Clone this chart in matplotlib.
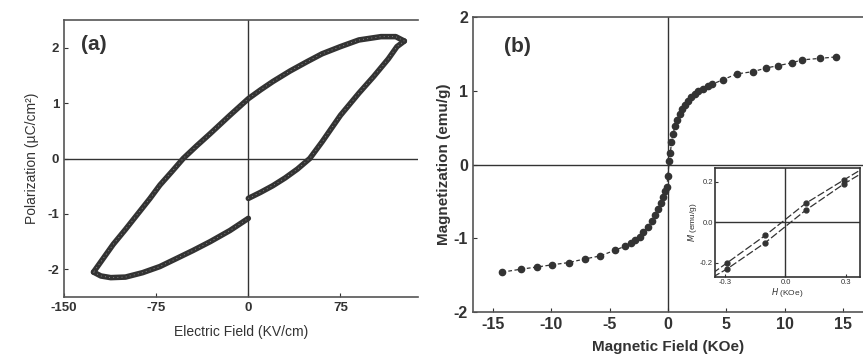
import matplotlib.pyplot as plt

plt.rcParams['font.family'] = ['Liberation Sans', 'DejaVu Sans']
plt.rcParams['axes.unicode_minus'] = False

# (a) P-E hysteresis loop, three traced branches
e_up = [0, 10, 20, 30, 40, 50, 60, 75, 90, 102, 114, 121, 127]
p_up = [-0.72, -0.61, -0.49, -0.35, -0.19, 0.0, 0.30, 0.78, 1.18, 1.48, 1.80, 2.02, 2.12]

e_top = [127, 120, 108, 90, 75, 60, 48, 34, 20, 10, 0, -15, -31, -42, -53, -62, -72,
         -80, -90, -100, -110, -118, -126]
p_top = [2.12, 2.20, 2.20, 2.14, 2.02, 1.89, 1.75, 1.58, 1.39, 1.24, 1.08, 0.78, 0.45,
         0.23, 0.0, -0.23, -0.48, -0.72, -1.00, -1.28, -1.55, -1.80, -2.05]

e_low = [-126, -120, -112, -100, -86, -72, -58, -45, -31, -15, 0]
p_low = [-2.05, -2.12, -2.15, -2.14, -2.06, -1.95, -1.80, -1.66, -1.50, -1.30, -1.08]

# (b) M-H curve
h_field = [-14.2, -12.6, -11.2, -9.9, -8.5, -7.1, -5.8, -4.5, -3.7, -3.2, -2.8, -2.4, -2.1, -1.7,
           -1.4, -1.1, -0.85, -0.6, -0.43, -0.25, -0.1, 0.0, 0.1, 0.2, 0.3, 0.45, 0.6, 0.75, 1.0,
           1.2, 1.45, 1.7, 2.0, 2.3, 2.6, 3.0, 3.4, 3.8, 4.7, 5.9, 7.3, 8.4, 9.4, 10.6, 11.5,
           13.0, 14.4]
mag = [-1.46, -1.42, -1.39, -1.36, -1.33, -1.28, -1.24, -1.16, -1.11, -1.07, -1.03, -0.98, -0.92,
       -0.85, -0.76, -0.68, -0.60, -0.52, -0.44, -0.36, -0.31, -0.15, 0.05, 0.15, 0.30, 0.42,
       0.52, 0.60, 0.68, 0.75, 0.81, 0.86, 0.91, 0.96, 1.00, 1.03, 1.06, 1.09, 1.15, 1.23, 1.26,
       1.31, 1.34, 1.38, 1.42, 1.44, 1.46]

# inset: low-field M-H, two branches
h_in = [-0.36, -0.29, -0.1, 0.1, 0.29, 0.39]
m_in_a = [-0.25, -0.20, -0.064, 0.094, 0.21, 0.27]
m_in_b = [-0.27, -0.23, -0.10, 0.06, 0.19, 0.25]
h_in_pts = [-0.29, -0.1, 0.1, 0.29]
m_in_a_pts = [-0.20, -0.064, 0.094, 0.21]
m_in_b_pts = [-0.23, -0.10, 0.06, 0.19]

ink = '#333333'

fig = plt.figure(figsize=(8.63, 3.64), dpi=100)

ax1 = fig.add_axes([0.0742, 0.184, 0.41, 0.761])
ax1.axhline(0, color=ink, lw=1.0, zorder=1)
ax1.axvline(0, color=ink, lw=1.0, zorder=1)
for xs, ys in [(e_up, p_up), (e_top, p_top), (e_low, p_low)]:
    ax1.plot(xs, ys, color=ink, lw=4.0, solid_capstyle='round', solid_joinstyle='round', zorder=3)
    ax1.plot(xs, ys, color='#9a9a9a', lw=0.6, ls=(0, (1, 4)), zorder=4)
ax1.set_xlim(-150, 138)
ax1.set_ylim(-2.5, 2.5)
ax1.set_xticks([-150, -75, 0, 75])
ax1.set_yticks([-2, -1, 0, 1, 2])
ax1.tick_params(direction='in', length=3, labelsize=9.5, colors=ink)
for lab in ax1.get_xticklabels() + ax1.get_yticklabels():
    lab.set_fontweight('bold')
ax1.spines['right'].set_visible(False)
for s in ['left', 'top', 'bottom']:
    ax1.spines[s].set_color('#555555')
    ax1.spines[s].set_linewidth(1.2)
ax1.set_xlabel('Electric Field (KV/cm)', fontsize=10, color=ink, labelpad=8)
ax1.set_ylabel('Polarization (µC/cm²)', fontsize=10, color=ink, labelpad=6)
ax1.text(-136, 2.05, '(a)', fontsize=15, fontweight='bold', color=ink, va='center')

ax2 = fig.add_axes([0.548, 0.143, 0.452, 0.81])
ax2.axhline(0, color=ink, lw=1.0, zorder=1)
ax2.axvline(0, color=ink, lw=1.0, zorder=1)
ax2.plot(h_field, mag, color=ink, lw=0.9, ls=(0, (3, 2)), zorder=2)
ax2.plot(h_field, mag, 'o', color=ink, ms=4.5, zorder=3)
ax2.set_xlim(-16.7, 16.7)
ax2.set_ylim(-2, 2)
ax2.set_xticks([-15, -10, -5, 0, 5, 10, 15])
ax2.set_yticks([-2, -1, 0, 1, 2])
ax2.tick_params(direction='in', length=3, labelsize=11.5, colors=ink)
for lab in ax2.get_xticklabels() + ax2.get_yticklabels():
    lab.set_fontweight('bold')
ax2.spines['right'].set_visible(False)
for s in ['left', 'top', 'bottom']:
    ax2.spines[s].set_color('#555555')
    ax2.spines[s].set_linewidth(1.2)
ax2.set_xlabel('Magnetic Field (KOe)', fontsize=11, fontweight='bold', color=ink, labelpad=6)
ax2.set_ylabel('Magnetization (emu/g)', fontsize=11, fontweight='bold', color=ink, labelpad=2)
ax2.text(-14.0, 1.6, '(b)', fontsize=15, fontweight='bold', color=ink, va='center')

ax3 = fig.add_axes([0.8285, 0.239, 0.168, 0.30])
ax3.axhline(0, color=ink, lw=1.0)
ax3.axvline(0, color=ink, lw=1.0)
ax3.plot(h_in, m_in_a, color=ink, lw=0.9, ls=(0, (6, 2)))
ax3.plot(h_in, m_in_b, color=ink, lw=0.9, ls=(0, (6, 2)))
ax3.plot(h_in_pts, m_in_a_pts, 'o', color=ink, ms=3.5)
ax3.plot(h_in_pts, m_in_b_pts, 'o', color=ink, ms=3.5)
ax3.set_xlim(-0.35, 0.37)
ax3.set_ylim(-0.27, 0.27)
ax3.set_xticks([-0.3, 0.0, 0.3])
ax3.set_yticks([-0.2, 0.0, 0.2])
ax3.tick_params(direction='in', length=2, labelsize=5.5, pad=1.5, colors=ink)
for s in ax3.spines.values():
    s.set_color(ink)
    s.set_linewidth(1.2)
ax3.set_xlabel('$H$ (KOe)', fontsize=6, color=ink, labelpad=0)
ax3.set_ylabel('$M$ (emu/g)', fontsize=6, color=ink, labelpad=1)

fig.savefig('out.png', dpi=100)
